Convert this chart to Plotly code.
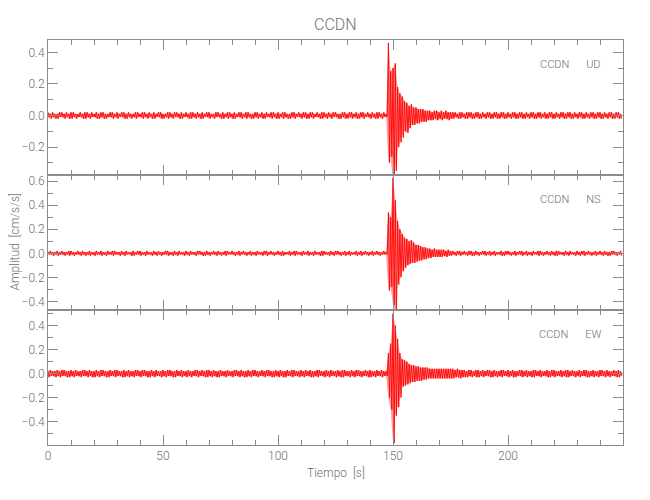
import plotly.graph_objects as go
from plotly.subplots import make_subplots

# Time bins (s), one per second
T = list(range(250))

# Envelope per 1-s bin, in hundredths of cm/s/s (max then min)
UD_MAX_PRE = [2,1,2,1,1,2,2,1,2,1, 2,2,1,1,2,1,2,2,1,2, 1,2,1,2,2,1,1,2,2,1, 2,1,2,2,1,2,1,1,2,2,
              1,2,2,1,2,1,2,1,2,2, 1,1,2,2,1,2,2,1,2,1, 2,1,2,2,1,2,1,2,1,2, 2,1,1,2,2,1,2,1,2,2,
              1,2,1,2,2,1,2,2,1,1, 2,2,1,2,1,2,1,2,2,1, 2,1,2,2,1,1,2,2,1,2, 1,2,2,1,2,2,1,2,1,2,
              2,1,2,1,2,2,1,1,2,2, 1,2,2,1,2,1,2,2,1,2, 1,2,1,2,2,1,2]
UD_MAX_EVT = [1,46,28,30,33,18,14,12,9,8, 6,7,5,5,4,4,4,3,3,3, 2,3,3,2,3,2,3,2,2]
UD_MAX_POST = [2,2,1,2,2,1,2,2,2,1, 2,2,1,2,1,2,2,1,2,2, 1,2,2,1,2,1,2,2,1,2, 2,1,2,1,2,2,1,2,2,1,
               2,1,2,2,1,2,1,2,2,1, 2,2,1,2,1,2,2,1,2,1, 2,2,1,2,2,1,2,1,2,2, 1,2,2,1]
UD_MIN_PRE = [-1,-2,-1,-2,-2,-1,-1,-2,-1,-2, -2,-1,-2,-1,-1,-2,-2,-1,-2,-1, -1,-2,-2,-1,-2,-2,-1,-1,-2,-1,
              -2,-1,-1,-2,-2,-1,-2,-1,-2,-1, -1,-2,-1,-2,-1,-2,-2,-1,-1,-2, -2,-1,-2,-1,-2,-1,-1,-2,-2,-1,
              -1,-2,-2,-1,-2,-1,-2,-2,-1,-1, -2,-1,-2,-1,-1,-2,-2,-1,-2,-1, -2,-2,-1,-1,-2,-1,-2,-1,-2,-2,
              -1,-2,-1,-2,-2,-1,-1,-2,-1,-2, -2,-1,-2,-1,-2,-2,-1,-2,-1,-1, -2,-1,-2,-2,-1,-2,-1,-1,-2,-2,
              -1,-2,-1,-2,-1,-1,-2,-2,-1,-2, -2,-1,-2,-1,-2,-2,-1,-2,-1,-1, -2,-1,-2,-2,-1,-2,-1]
UD_MIN_EVT = [-1,-30,-26,-44,-35,-20,-17,-14,-10,-11, -8,-6,-6,-5,-5,-4,-4,-4,-3,-3, -3,-2,-3,-2,-3,-2,-2,-3,-2]
UD_MIN_POST = [-2,-1,-2,-2,-1,-2,-2,-1,-2,-2, -1,-2,-2,-1,-2,-1,-2,-2,-1,-2, -2,-1,-2,-2,-1,-2,-1,-2,-2,-1,
               -2,-2,-1,-2,-1,-2,-2,-1,-2,-1, -2,-2,-1,-2,-2,-1,-2,-1,-2,-2, -1,-2,-2,-1,-2,-1,-2,-2,-1,-2,
               -1,-2,-2,-1,-2,-2,-1,-2,-1,-2, -2,-1,-2,-2]

NS_MAX_PRE = [1,2,1,1,2,1,2,1,1,2, 2,1,1,2,1,2,1,1,2,1, 1,2,1,2,1,1,2,1,2,2, 1,1,2,1,2,1,1,2,1,2,
              2,1,1,2,1,1,2,1,2,1, 1,2,2,1,1,2,1,2,1,1, 2,1,2,1,1,2,2,1,1,2, 1,1,2,1,2,1,1,2,2,1,
              2,1,1,2,1,2,1,1,2,1, 1,2,1,1,2,2,1,2,1,1, 2,1,2,1,1,2,1,2,2,1, 1,2,1,2,1,1,2,1,1,2,
              2,1,1,2,1,2,2,1,1,2, 1,2,1,1,2,1,2,1,2,1, 1,2,1,2,1,1,2]
NS_MAX_EVT = [1,34,30,63,44,27,20,16,13,12, 10,11,9,7,7,6,5,5,4,4, 3,4,3,3,3,3,2,3,2]
NS_MAX_POST = [2,1,2,2,1,2,1,2,2,1, 2,1,1,2,2,1,2,1,2,1, 1,2,1,2,2,1,1,2,1,2, 2,1,2,1,1,2,1,2,2,1,
               1,2,1,2,1,2,2,1,1,2, 1,2,1,1,2,1,2,2,1,2, 1,1,2,1,2,1,2,1,1,2, 2,1,1,2]
NS_MIN_PRE = [-1,-1,-2,-1,-2,-1,-1,-2,-1,-2, -1,-2,-1,-1,-2,-1,-2,-1,-2,-1, -2,-1,-1,-2,-1,-2,-1,-1,-2,-1,
              -1,-2,-1,-2,-1,-1,-2,-2,-1,-1, -2,-1,-2,-1,-1,-2,-1,-2,-1,-2, -1,-1,-2,-1,-2,-1,-2,-1,-1,-2,
              -1,-2,-1,-1,-2,-1,-1,-2,-2,-1, -2,-1,-1,-2,-1,-2,-1,-2,-1,-1, -1,-2,-1,-2,-1,-1,-2,-1,-2,-1,
              -2,-1,-1,-2,-1,-2,-1,-1,-2,-1, -1,-2,-2,-1,-1,-2,-1,-2,-1,-1, -2,-1,-1,-2,-1,-2,-1,-1,-2,-2,
              -1,-1,-2,-1,-2,-1,-1,-2,-1,-2, -1,-2,-1,-1,-2,-1,-2,-1,-1,-2, -1,-2,-1,-1,-2,-1,-1]
NS_MIN_EVT = [-1,-31,-28,-43,-52,-26,-20,-15,-12,-10, -9,-8,-8,-7,-6,-6,-5,-5,-4,-4, -3,-3,-3,-3,-3,-2,-3,-2,-2]
NS_MIN_POST = [-1,-2,-1,-2,-1,-1,-2,-1,-2,-2, -1,-2,-1,-1,-2,-1,-2,-1,-2,-1, -1,-2,-2,-1,-1,-2,-1,-2,-1,-1,
               -2,-1,-2,-1,-2,-1,-1,-2,-1,-2, -1,-1,-2,-1,-2,-2,-1,-1,-2,-1, -2,-1,-1,-2,-1,-2,-1,-2,-1,-1,
               -2,-1,-2,-1,-1,-2,-1,-2,-2,-1, -1,-2,-1,-2]

EW_MAX_PRE = [2,3,2,2,3,2,3,3,2,2, 3,2,3,2,2,3,3,2,3,2, 2,3,2,3,3,2,2,3,2,3, 3,2,2,3,2,3,2,2,3,3,
              2,3,3,2,2,3,2,3,2,2, 3,2,3,3,2,2,3,2,3,2, 2,3,2,2,3,3,2,3,2,3, 3,2,3,2,2,3,2,2,3,2,
              2,3,3,2,3,2,2,3,2,3, 3,2,2,3,2,3,3,2,2,3, 2,3,2,2,3,2,3,3,2,2, 3,2,3,2,3,2,2,3,3,2,
              2,3,2,3,2,2,3,2,3,3, 2,2,3,2,3,3,2,2,3,2, 3,2,2,3,2,3,2]
EW_MAX_EVT = [2,17,25,50,40,29,17,12,11,10, 8,7,7,6,6,5,5,5,5,4, 4,4,4,4,4,4,4,4,4]
EW_MAX_POST = [4,3,4,3,3,3,2,3,3,2, 3,3,2,3,2,3,3,2,3,2, 2,3,3,2,3,2,3,2,2,3, 3,2,3,2,2,3,3,2,3,2,
               2,3,2,3,3,2,2,3,2,3, 3,2,3,2,2,3,2,3,3,2, 2,3,2,2,3,3,2,3,2,2, 3,2,3,2]
EW_MIN_PRE = [-3,-2,-2,-3,-2,-3,-2,-2,-3,-3, -2,-3,-2,-2,-3,-2,-2,-3,-2,-3, -3,-2,-3,-2,-2,-3,-3,-2,-2,-3,
              -2,-2,-3,-3,-2,-3,-2,-3,-2,-2, -3,-2,-2,-3,-3,-2,-3,-2,-2,-3, -2,-3,-2,-2,-3,-3,-2,-2,-3,-2,
              -3,-2,-3,-2,-2,-3,-2,-2,-3,-3, -2,-3,-2,-3,-3,-2,-2,-3,-2,-2, -3,-2,-2,-3,-2,-3,-3,-2,-3,-2,
              -2,-3,-2,-2,-3,-2,-2,-3,-3,-2, -3,-2,-3,-3,-2,-2,-3,-2,-2,-3, -2,-3,-2,-2,-3,-3,-2,-3,-2,-2,
              -3,-2,-3,-2,-2,-3,-2,-3,-3,-2, -2,-3,-2,-3,-2,-2,-3,-2,-2,-3, -3,-2,-3,-2,-2,-3,-2]
EW_MIN_EVT = [-2,-20,-30,-58,-35,-28,-20,-11,-10,-9, -8,-7,-7,-6,-6,-6,-5,-5,-4,-4, -4,-4,-4,-4,-4,-4,-4,-4,-4]
EW_MIN_POST = [-4,-3,-3,-4,-3,-3,-3,-2,-3,-2, -3,-3,-2,-3,-2,-2,-3,-3,-2,-3, -2,-3,-2,-2,-3,-2,-3,-3,-2,-2,
               -3,-2,-3,-2,-3,-3,-2,-2,-3,-2, -2,-3,-3,-2,-3,-2,-2,-3,-2,-3, -3,-2,-2,-3,-2,-3,-2,-2,-3,-3,
               -2,-3,-2,-3,-2,-2,-3,-2,-3,-2, -2,-3,-3,-2]

STATION = "CCDN"
COMPONENTS = ["UD", "NS", "EW"]
Y_RANGES = [[-0.377, 0.478], [-0.472, 0.652], [-0.595, 0.53]]
X_TICKS = [0, 50, 100, 150, 200]

series = [
    (UD_MAX_PRE + UD_MAX_EVT + UD_MAX_POST, UD_MIN_PRE + UD_MIN_EVT + UD_MIN_POST),
    (NS_MAX_PRE + NS_MAX_EVT + NS_MAX_POST, NS_MIN_PRE + NS_MIN_EVT + NS_MIN_POST),
    (EW_MAX_PRE + EW_MAX_EVT + EW_MAX_POST, EW_MIN_PRE + EW_MIN_EVT + EW_MIN_POST),
]

AX = "#8c8c8c"
TXT = "#707070"
FONT = "Roboto, Liberation Sans, sans-serif"

fig = make_subplots(rows=3, cols=1, shared_xaxes=True, vertical_spacing=0)

for i, (hi, lo) in enumerate(series):
    r = i + 1
    hi_v = [h / 100.0 for h in hi]
    lo_v = [l / 100.0 for l in lo]
    # envelope band
    fig.add_trace(go.Scatter(x=T, y=hi_v, mode="lines", line=dict(width=0, color="rgba(255,0,0,0)"),
                             showlegend=False, hoverinfo="skip"), row=r, col=1)
    fig.add_trace(go.Scatter(x=T, y=lo_v, mode="lines", line=dict(width=0, color="rgba(255,0,0,0)"),
                             fill="tonexty", fillcolor="rgba(255,40,40,0.45)",
                             showlegend=False, hoverinfo="skip"), row=r, col=1)
    # trace drawn as max/min strokes per bin
    xs, ys = [], []
    for t, h, l in zip(T, hi_v, lo_v):
        xs += [t, t + 0.5]
        ys += [h, l]
    fig.add_trace(go.Scatter(x=xs, y=ys, mode="lines",
                             line=dict(color="#ff0000", width=0.9),
                             showlegend=False, hoverinfo="skip"), row=r, col=1)
    fig.update_yaxes(range=Y_RANGES[i], dtick=0.2, tick0=0, tickformat=".1f",
                     ticks="inside", ticklen=10, tickcolor=AX, tickwidth=1,
                     minor=dict(dtick=0.1, tick0=0, ticks="inside", ticklen=5, tickcolor=AX),
                     showline=True, linecolor=AX, linewidth=1, mirror="allticks",
                     showgrid=False, zeroline=False, automargin=False,
                     tickfont=dict(family=FONT, size=12, color=TXT, weight=300),
                     row=r, col=1)
    fig.update_xaxes(range=[0, 250], tickvals=X_TICKS,
                     ticks="inside", ticklen=10, tickcolor=AX, tickwidth=1,
                     minor=dict(dtick=10, tick0=0, ticks="inside", ticklen=5, tickcolor=AX),
                     showline=True, linecolor=AX, linewidth=1, mirror="allticks",
                     showgrid=False, zeroline=False, automargin=False,
                     tickfont=dict(family=FONT, size=12, color=TXT, weight=300),
                     row=r, col=1)

annotations = []
for i, comp in enumerate(COMPONENTS):
    yref = "y domain" if i == 0 else f"y{i + 1} domain"
    xref = "x domain" if i == 0 else f"x{i + 1} domain"
    annotations.append(dict(text=f"{STATION}\u2003\u2002{comp}", x=0.966, y=0.815,
                            xref=xref, yref=yref, xanchor="right", yanchor="middle",
                            showarrow=False,
                            font=dict(family=FONT, size=11, color=TXT, weight=300)))
annotations.append(dict(text="Amplitud  [cm/s/s]", x=-0.059, y=0.5, xref="paper", yref="paper",
                        textangle=-90, xanchor="center", yanchor="middle", showarrow=False,
                        font=dict(family=FONT, size=12, color=TXT, weight=300)))
annotations.append(dict(text="Tiempo  [s]", x=0.5, y=-0.068, xref="paper", yref="paper",
                        xanchor="center", yanchor="middle", showarrow=False,
                        font=dict(family=FONT, size=12, color=TXT, weight=300)))
annotations.append(dict(text=STATION, x=0.5, y=1.0395, xref="paper", yref="paper",
                        xanchor="center", yanchor="middle", showarrow=False,
                        font=dict(family=FONT, size=16, color=TXT, weight=300)))

# page body adds an 8 px offset, so the figure is 8 px smaller on each axis
fig.update_layout(width=642, height=492,
                  margin=dict(l=40, r=27, t=32, b=55, autoexpand=False),
                  plot_bgcolor="white", paper_bgcolor="white",
                  annotations=annotations)

fig.write_html("out.html")
